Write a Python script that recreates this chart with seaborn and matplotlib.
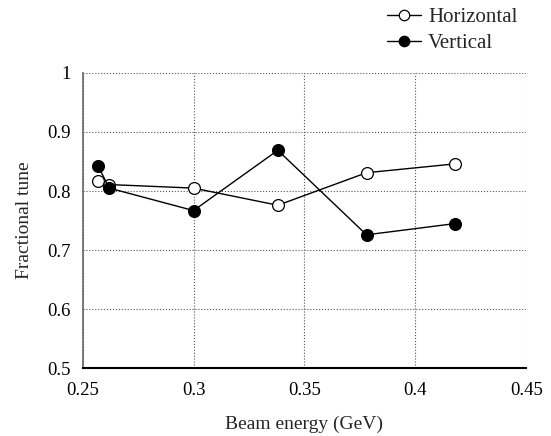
import pandas as pd
import numpy as np
import matplotlib.pyplot as plt
import seaborn as sns

energy = [0.257, 0.262, 0.300, 0.338, 0.378, 0.418]
horizontal = [0.817, 0.811, 0.805, 0.776, 0.831, 0.846]
vertical = [0.842, 0.805, 0.767, 0.869, 0.726, 0.745]

x_ticks = [0.25, 0.3, 0.35, 0.4, 0.45]
x_labels = ["0.25", "0.3", "0.35", "0.4", "0.45"]
y_ticks = [0.5, 0.6, 0.7, 0.8, 0.9, 1.0]
y_labels = ["0.5", "0.6", "0.7", "0.8", "0.9", "1"]

df = pd.DataFrame(
    {
        "Beam energy (GeV)": energy * 2,
        "Fractional tune": horizontal + vertical,
        "Plane": ["Horizontal"] * len(energy) + ["Vertical"] * len(energy),
    }
)

sns.set_style("white")
plt.rcParams["font.family"] = ["Liberation Serif", "DejaVu Serif"]

fig = plt.figure(figsize=(5.51, 4.36), dpi=100)
ax = fig.add_axes([0.150, 0.155, 0.805, 0.678])

for plane, face in [("Horizontal", "white"), ("Vertical", "black")]:
    sub = df[df["Plane"] == plane]
    sns.lineplot(
        x="Beam energy (GeV)",
        y="Fractional tune",
        data=sub,
        ax=ax,
        color="black",
        linewidth=1.0,
        marker="o",
        markersize=8.5,
        markerfacecolor=face,
        markeredgecolor="black",
        markeredgewidth=0.9,
        label=plane,
    )

ax.set_xlim(0.25, 0.45)
ax.set_ylim(0.5, 1.0)
ax.set_xticks(x_ticks)
ax.set_xticklabels(x_labels)
ax.set_yticks(y_ticks)
ax.set_yticklabels(y_labels)
ax.grid(True, linestyle=":", color="#555555", linewidth=0.8)

for side in ["top", "right"]:
    ax.spines[side].set_visible(False)
ax.spines["left"].set_color("#666666")
ax.spines["bottom"].set_color("black")
ax.spines["left"].set_linewidth(1.2)
ax.spines["bottom"].set_linewidth(1.5)
ax.tick_params(
    axis="both", direction="out", length=5, width=1.2, labelsize=13.5, colors="black"
)
ax.tick_params(axis="x", pad=5)
ax.set_xlabel("Beam energy (GeV)", fontsize=14, labelpad=12)
ax.set_ylabel("Fractional tune", fontsize=14, labelpad=10)

handles, labels = ax.get_legend_handles_labels()
ax.get_legend().remove()
leg = fig.legend(
    handles,
    labels,
    loc="upper left",
    bbox_to_anchor=(0.703, 0.982),
    frameon=False,
    fontsize=15,
    handlelength=1.6,
    handletextpad=0.35,
    labelspacing=0.3,
    borderaxespad=0,
    borderpad=0,
)
for h in leg.legend_handles:
    h.set_markersize(7.5)

fig.savefig("out.png", dpi=100)
